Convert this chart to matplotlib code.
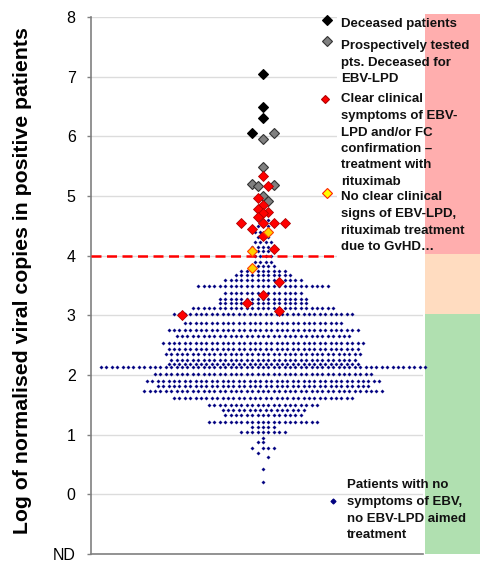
import numpy as np
import matplotlib
matplotlib.use("Agg")
import matplotlib.pyplot as plt
from matplotlib.patches import Rectangle

plt.rcParams['font.family'] = ['Liberation Sans', 'DejaVu Sans']

# swarm rows of patients without symptoms: level and number of dots in the row
row_vals = [4.59, 4.49, 4.40, 4.32, 4.23, 4.15, 4.07, 3.99, 3.90, 3.83, 3.75, 3.67,
            3.60, 3.50, 3.37, 3.28, 3.20, 3.12, 3.02, 2.87, 2.76, 2.65, 2.54, 2.44,
            2.35, 2.25, 2.18, 2.13, 2.02, 1.90, 1.82, 1.74, 1.62, 1.49, 1.41, 1.33,
            1.21, 1.13, 1.05]
row_counts = [3, 3, 4, 3, 4, 5, 5, 4, 4, 5, 9, 11,
              15, 25, 15, 17, 17, 27, 34, 30, 36, 33, 38, 36,
              37, 35, 36, 61, 41, 44, 40, 45, 34, 21, 16, 15,
              21, 5, 9]
# loose dots at the bottom of the swarm (value, slot)
low_vals = [0.95, 0.88, 0.88, 0.77, 0.77, 0.77, 0.77, 0.69, 0.63, 0.43, 0.21]
low_slots = [0, -1, 0, -2, 0, 1, 2, -1, 1, 0, 0]

black_vals = [7.04, 6.50, 6.30, 6.06]
black_slots = [0, 0, 0, -2]
gray_vals = [6.06, 5.95, 5.49, 5.20, 5.17, 5.19, 5.00, 4.92]
gray_slots = [2, 0, 0, -2, -1, 2, 0, 1]
red_vals = [5.34, 5.17, 4.96, 4.85, 4.78, 4.73, 4.71, 4.64, 4.55, 4.55, 4.55, 4.55,
            4.44, 4.33, 4.11, 3.56, 3.34, 3.21, 3.08, 3.00]
red_slots = [0, 1, -1, 0, -1, 1, 0, -1, -4, 0, 2, 4, -2, 0, 2, 3, 0, -3, 3, -15]
yellow_vals = [4.40, 4.08, 3.79]
yellow_slots = [1, -2, -2]

threshold = 4
tick_vals = [-1, 0, 1, 2, 3, 4, 5, 6, 7, 8]
tick_labels = ['ND', '0', '1', '2', '3', '4', '5', '6', '7', '8']
band_edges = [-1, 3.03, 4.03, 8.05]
band_colors = ['#b0e0b0', '#ffdcc0', '#ffaeae']

W, H = 481, 562
fig = plt.figure(figsize=(W / 100, H / 100), dpi=100)
ax = fig.add_axes([91 / W, 8 / H, 332 / W, 537 / H])

# swarm positions
sx, sy = [], []
for v, n in zip(row_vals, row_counts):
    for i in range(n):
        sx.append(i - (n - 1) / 2)
        sy.append(v)
sx += low_slots
sy += low_vals

ax.plot(sx, sy, 'D', ms=1.75, color='#000080', mec='#000080', mew=0.2, ls='none',
        clip_on=False, zorder=3)
ax.plot(black_slots, black_vals, 'D', ms=4.7, mfc='black', mec='black', mew=0.8,
        ls='none', zorder=5)
ax.plot(gray_slots, gray_vals, 'D', ms=4.7, mfc='#808080', mec='#333333', mew=0.8,
        ls='none', zorder=5)
ax.plot(red_slots, red_vals, 'D', ms=4.7, mfc='#ff0000', mec='#b00000', mew=0.6,
        ls='none', zorder=5)
ax.plot(yellow_slots, yellow_vals, 'D', ms=4.7, mfc='#ffd000', mec='#ff4000', mew=0.8,
        ls='none', zorder=5)

ax.axhline(threshold, xmin=0, xmax=0.735, color='#ff0000', lw=1.8, ls=(0, (4, 2.2)),
           zorder=4)

ax.set_xlim(-172 / 5.4, 160 / 5.4)
ax.set_ylim(-1, 8)
ax.set_xticks([])
ax.set_yticks(tick_vals)
ax.set_yticklabels(tick_labels, fontsize=11.5)
ax.tick_params(axis='y', length=3, width=1, color='#808080', pad=8)
ax.yaxis.grid(True, color='#dcdcdc', lw=1)
ax.set_axisbelow(True)
for s in ['top', 'right']:
    ax.spines[s].set_visible(False)
for s in ['left', 'bottom']:
    ax.spines[s].set_color('#808080')
    ax.spines[s].set_linewidth(1.2)

# legend background hides the grid on the right side
ax.add_patch(Rectangle((0.741, 3.6), 0.26, 4.6, transform=ax.get_yaxis_transform(),
                       facecolor='white', edgecolor='none', zorder=1))

# coloured bands right of the plot
for lo, hi, c in zip(band_edges[:-1], band_edges[1:], band_colors):
    ax.add_patch(Rectangle((1.006, lo), 0.17, hi - lo, transform=ax.get_yaxis_transform(),
                           facecolor=c, edgecolor='none', clip_on=False, zorder=1))

fig.text(23 / W, 1 - 281 / H, 'Log of normalised viral copies in positive patients',
         rotation=90, ha='center', va='center', fontsize=15.3, fontweight='bold')

# legend
lax = fig.add_axes([0, 0, 1, 1], facecolor='none')
lax.set_xlim(0, W)
lax.set_ylim(H, 0)
lax.axis('off')
leg_items = [
    ('D', 5.2, 'black', 'black', 327, 20, 'Deceased patients', 341, 22),
    ('D', 5.2, '#808080', '#333333', 327, 41,
     'Prospectively tested\npts. Deceased for\nEBV-LPD', 341, 45),
    ('D', 4.2, '#ff0000', '#b00000', 325, 99,
     'Clear clinical\nsymptoms of EBV-\nLPD and/or FC\nconfirmation \u2013\ntreatment with\nrituximab',
     341, 98),
    ('D', 5.2, '#ffff00', '#ff2000', 327, 193,
     'No clear clinical\nsigns of EBV-LPD,\nrituximab treatment\ndue to GvHD\u2026', 341, 196),
    ('D', 2.6, '#000080', '#000080', 333, 501,
     'Patients with no\nsymptoms of EBV,\nno EBV-LPD aimed\ntreatment', 347, 484),
]
for mk, ms, fc, ec, mx, my, txt, tx, ty in leg_items:
    lax.plot([mx], [my], mk, ms=ms, mfc=fc, mec=ec, mew=0.8)
    lax.text(tx, ty - 4.5, txt, ha='left', va='top', fontsize=9.5, fontweight='bold',
             linespacing=1.5, color='#111111')

fig.savefig('out.png', dpi=100)
